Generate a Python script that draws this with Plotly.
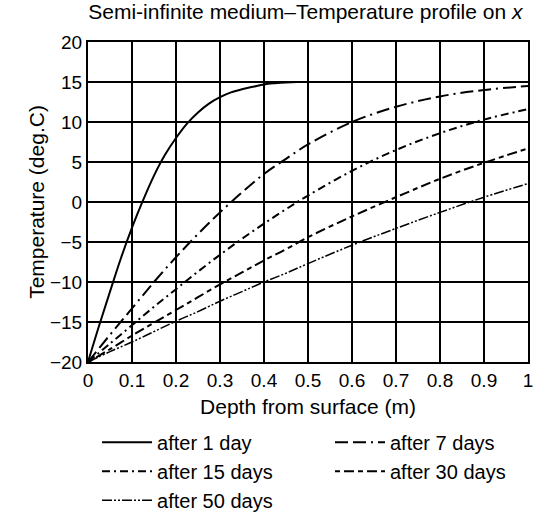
import plotly.graph_objects as go

# Depth from surface (m)
depth_1day = [0, 0.025, 0.05, 0.075, 0.1, 0.125, 0.15, 0.175, 0.2, 0.225, 0.25, 0.275,
              0.3, 0.325, 0.35, 0.375, 0.4, 0.425, 0.45, 0.475, 0.5, 0.6, 0.7, 0.8, 0.9, 1.0]
depth = [0, 0.05, 0.1, 0.15, 0.2, 0.25, 0.3, 0.35, 0.4, 0.45, 0.5, 0.6, 0.7, 0.8, 0.9, 1.0]

# Temperature (deg.C)
t_1day = [-20, -15.5, -11.2, -7.0, -3.2, 0.2, 3.3, 5.9, 8.0, 9.8, 11.2, 12.3,
          13.1, 13.7, 14.1, 14.4, 14.7, 14.85, 14.95, 15, 15, 15, 15, 15, 15, 15]
t_7days = [-20, -16.6, -13.3, -10.0, -6.9, -4.0, -1.3, 1.2, 3.5, 5.4, 7.2, 10.0,
           11.9, 13.2, 14.0, 14.5]
t_15days = [-20, -17.7, -15.4, -13.1, -10.9, -8.7, -6.6, -4.6, -2.7, -0.9, 0.8, 3.9,
            6.5, 8.6, 10.3, 11.6]
t_30days = [-20, -18.4, -16.7, -15.1, -13.5, -11.9, -10.3, -8.8, -7.3, -5.9, -4.4, -1.8,
            0.6, 2.9, 4.9, 6.7]
t_50days = [-20, -18.7, -17.5, -16.2, -14.9, -13.7, -12.4, -11.2, -10.0, -8.9, -7.7, -5.4,
            -3.3, -1.3, 0.6, 2.3]

x_ticks = [0, 0.1, 0.2, 0.3, 0.4, 0.5, 0.6, 0.7, 0.8, 0.9, 1]
x_tick_labels = ["0", "0.1", "0.2", "0.3", "0.4", "0.5", "0.6", "0.7", "0.8", "0.9", "1"]
y_ticks = [-20, -15, -10, -5, 0, 5, 10, 15, 20]

series = [
    ("after 1 day", depth_1day, t_1day, dict(color="black", width=2, dash="solid"), "legend"),
    ("after 7 days", depth, t_7days, dict(color="black", width=2, dash="13px,5px,13px,5px,2px,5px"), "legend2"),
    ("after 15 days", depth, t_15days, dict(color="black", width=2, dash="8px,4px,2px,4px"), "legend"),
    ("after 30 days", depth, t_30days, dict(color="black", width=2, dash="5px,4px,10px,4px"), "legend2"),
    ("after 50 days", depth, t_50days, dict(color="black", width=1.5, dash="10px,2px,2px,2px,2px,2px"), "legend"),
]

fig = go.Figure()
for name, xs, ys, ln, lg in series:
    fig.add_trace(go.Scatter(x=xs, y=ys, mode="lines", name=name, legend=lg,
                             line=dict(shape="spline", smoothing=1.0, **ln)))

# marker at surface point
fig.add_trace(go.Scatter(x=[depth[0]], y=[t_1day[0]], mode="markers", showlegend=False,
                         marker=dict(color="black", size=7, symbol="square")))

font_family = "Liberation Sans, Arial, sans-serif"
legend_common = dict(orientation="v", yanchor="top", xanchor="left",
                     font=dict(size=20, family=font_family, color="black"),
                     itemwidth=50, bgcolor="rgba(0,0,0,0)")
fig.update_layout(
    width=535, height=517,
    margin=dict(l=88, r=7, t=42, b=155, autoexpand=False),
    paper_bgcolor="white", plot_bgcolor="white",
    font=dict(family=font_family, color="black", size=20),
    title=dict(text="Semi-infinite medium\u2013Temperature profile on <i>x</i>",
               xref="paper", x=0.494, xanchor="center", y=0.977, yanchor="middle",
               font=dict(size=21, family=font_family, color="black")),
    xaxis=dict(range=[0, 1], tickvals=x_ticks, ticktext=x_tick_labels,
               showgrid=True, gridcolor="black", gridwidth=1.5,
               showline=True, linecolor="black", linewidth=2, mirror=True,
               zeroline=False, ticks="", tickfont=dict(size=19),
               title=dict(text="Depth from surface (m)", font=dict(size=21), standoff=10)),
    yaxis=dict(range=[-20, 20], tickvals=y_ticks,
               showgrid=True, gridcolor="black", gridwidth=1.5,
               showline=True, linecolor="black", linewidth=2, mirror=True,
               zeroline=False, ticks="", tickfont=dict(size=19),
               title=dict(text="Temperature (deg.C)", font=dict(size=21), standoff=0)),
    legend=dict(x=0.0205, y=-0.19, **legend_common),
    legend2=dict(x=0.55, y=-0.19, **legend_common),
    showlegend=True,
)

fig.write_html("out.html")
